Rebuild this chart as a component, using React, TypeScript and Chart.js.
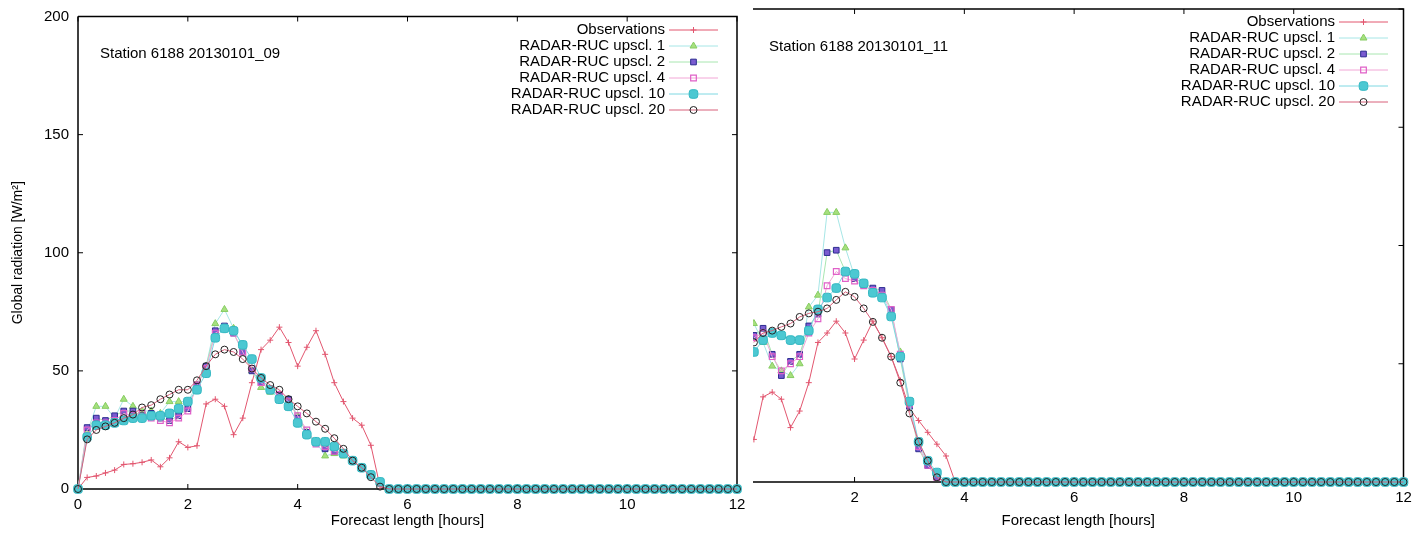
import React, { useEffect, useRef } from 'react';
import { Chart, registerables } from 'chart.js';
import { drawPoint } from 'chart.js/helpers';

Chart.register(...registerables);

const FONT = '"Liberation Sans", Arial, Helvetica, sans-serif';

// ---------------- DATA ----------------
// forecast length in minutes (10-minute steps, 0 .. 12 h)
const forecastMinutes = [
  0, 10, 20, 30, 40, 50, 60, 70, 80, 90,
  100, 110, 120, 130, 140, 150, 160, 170, 180, 190,
  200, 210, 220, 230, 240, 250, 260, 270, 280, 290,
  300, 310, 320, 330, 340, 350, 360, 370, 380, 390,
  400, 410, 420, 430, 440, 450, 460, 470, 480, 490,
  500, 510, 520, 530, 540, 550, 560, 570, 580, 590,
  600, 610, 620, 630, 640, 650, 660, 670, 680, 690,
  700, 710, 720,
];

const seriesLabels = [
  'Observations',
  'RADAR-RUC upscl. 1',
  'RADAR-RUC upscl. 2',
  'RADAR-RUC upscl. 4',
  'RADAR-RUC upscl. 10',
  'RADAR-RUC upscl. 20',
];

const xTicksLeft = [0, 2, 4, 6, 8, 10, 12];
const xTicksRight = [2, 4, 6, 8, 10, 12];
const yTicks = [0, 50, 100, 150, 200];

const stationLeft = 'Station 6188 20130101_09';
const stationRight = 'Station 6188 20130101_11';

// zero tails (night hours)
const leftZeroTail = [
  0, 0, 0, 0, 0, 0, 0, 0, 0, 0,
  0, 0, 0, 0, 0, 0, 0, 0, 0, 0,
  0, 0, 0, 0, 0, 0, 0, 0, 0, 0,
  0, 0, 0, 0, 0, 0, 0, 0, 0,
];
const rightZeroTail = [
  0, 0, 0, 0, 0, 0, 0, 0, 0, 0,
  0, 0, 0, 0, 0, 0, 0, 0, 0, 0,
  0, 0, 0, 0, 0, 0, 0, 0, 0, 0,
  0, 0, 0, 0, 0, 0, 0, 0, 0, 0,
  0, 0, 0, 0, 0, 0, 0, 0, 0, 0,
];

// Left panel (run 09), 0 .. 5.5 h
const leftObs = [0, 4.9, 5.5, 6.8, 8, 10.4, 10.7, 11.3, 12.3, 9.4, 13.2, 20, 17.6, 18.3, 36, 38, 35, 23, 30, 45, 59, 63, 68.5, 62, 52, 60, 67, 57, 45, 37, 30, 27, 18.5, 1];
const leftUp1 = [0, 24, 35, 35, 30, 38, 35, 33, 33, 32, 37, 37, 37, 44, 52, 70, 76, 68, 60, 50, 43, 41, 40, 38, 31, 24, 20, 14, 15, 14, 12, 9, 6, 3];
const leftUp2 = [0, 26, 30, 29, 31, 33, 33, 31, 32, 30, 29, 31, 34, 44, 52, 67, 69, 66, 58, 50, 45, 42, 40, 38, 30, 24, 20, 17, 16, 15, 12, 9, 6, 3];
const leftUp4 = [0, 25, 28, 28, 29, 32, 31, 32, 30, 29, 28, 30, 33, 44, 51, 66, 68, 66, 58, 51, 45, 42, 40, 37, 31, 25, 19, 18, 16, 15, 12, 9, 6, 3];
const leftUp10 = [0, 22, 27, 27, 28, 29, 30, 30, 31, 31, 32, 34, 37, 42, 49, 64, 68, 67, 61, 55, 47, 42, 38, 35, 28, 23, 20, 20, 18, 15, 12, 9, 6, 3];
const leftUp20 = [0, 21, 25, 26.5, 28, 30, 31.5, 34.5, 35.5, 38, 40, 42, 42, 46, 52, 57, 59, 58, 55, 51, 47, 44, 42, 38, 35, 32, 28.5, 25.5, 21.5, 17, 12, 9, 5, 1];

// Right panel (run 11), 0 .. 3.67 h (t = 0 lies outside the cropped frame)
const rightObs = [null, 18, 36, 38, 35, 23, 30, 42, 59, 63, 68, 63, 52, 60, 68, 61, 53, 43, 31, 26, 21, 16, 11];
const rightUp1 = [null, 67, 59, 49, 47, 45, 50, 74, 79, 114, 114, 99, 87, 83, 81, 79, 71, 55, 34, 16, 8, 2, 0];
const rightUp2 = [null, 62, 65, 54, 45, 51, 54, 66, 71, 97, 98, 89, 86, 84, 82, 81, 73, 52, 32, 14, 7, 2, 0];
const rightUp4 = [null, 61, 63, 53, 47, 50, 53, 63, 69, 83, 89, 86, 85, 83, 81, 79, 73, 54, 33, 15, 7, 2, 0];
const rightUp10 = [null, 55, 60, 63, 62, 60, 60, 64, 73, 78, 82, 89, 88, 84, 80, 78, 70, 53, 34, 17, 9, 4, 0];
const rightUp20 = [null, 59, 63, 64, 65.6, 67, 69.8, 71.3, 72, 73.4, 77, 80.4, 78.3, 73.4, 67.7, 61, 53, 42, 29, 17, 9, 2, 0];

const leftSeries = [leftObs, leftUp1, leftUp2, leftUp4, leftUp10, leftUp20].map((s) => [...s, ...leftZeroTail]);
const rightSeries = [rightObs, rightUp1, rightUp2, rightUp4, rightUp10, rightUp20].map((s) => [...s, ...rightZeroTail]);

// ---------------- STYLES ----------------
const styles = [
  { line: '#e2566f', pointStyle: 'cross', border: '#e2566f', fill: 'rgba(0,0,0,0)', radius: 3, bw: 1 },
  { line: '#a6e6e6', pointStyle: 'triangle', border: '#86cc62', fill: '#a6e07e', radius: 4, bw: 1 },
  { line: '#a8e6b0', pointStyle: 'rect', border: '#2c2c90', fill: '#7a5cd0', radius: 4, bw: 1 },
  { line: '#f2a6d6', pointStyle: 'rect', border: '#e060c8', fill: 'rgba(0,0,0,0)', radius: 4, bw: 1.2 },
  { line: '#7ed8e2', pointStyle: 'rectRounded', border: '#34b8c2', fill: '#4cc8d2', radius: 5, bw: 1 },
  { line: '#d8607a', pointStyle: 'circle', border: '#222222', fill: 'rgba(0,0,0,0)', radius: 3.5, bw: 1 },
];

const framePlugin = {
  id: 'gnuFrame',
  beforeDatasetsDraw(chart: any, _args: any, opts: any) {
    const { ctx, chartArea: a, scales } = chart;
    const x = scales.x;
    const y = scales.y;
    const tl = 5;
    ctx.save();
    ctx.strokeStyle = '#000';
    ctx.lineWidth = 1.5;
    ctx.beginPath();
    ctx.moveTo(a.left, a.top);
    ctx.lineTo(a.right, a.top);
    ctx.lineTo(a.right, a.bottom);
    ctx.lineTo(a.left, a.bottom);
    if (opts.leftBorder) ctx.lineTo(a.left, a.top);
    ctx.stroke();
    ctx.lineWidth = 1;
    ctx.beginPath();
    opts.xTicks.forEach((v: number) => {
      const px = x.getPixelForValue(v);
      if (px < a.left - 0.5 || px > a.right + 0.5) return;
      ctx.moveTo(px, a.bottom);
      ctx.lineTo(px, a.bottom - tl);
      ctx.moveTo(px, a.top);
      ctx.lineTo(px, a.top + tl);
    });
    opts.yTicks.forEach((v: number) => {
      const py = y.getPixelForValue(v);
      if (opts.leftBorder) {
        ctx.moveTo(a.left, py);
        ctx.lineTo(a.left + tl, py);
      }
      ctx.moveTo(a.right, py);
      ctx.lineTo(a.right - tl, py);
    });
    ctx.stroke();
    ctx.restore();
  },
};

const legendPlugin = {
  id: 'gnuLegend',
  afterDatasetsDraw(chart: any, _args: any, opts: any) {
    const { ctx, chartArea: a } = chart;
    ctx.save();
    ctx.font = `15px ${FONT}`;
    ctx.textBaseline = 'middle';
    ctx.textAlign = 'left';
    ctx.fillStyle = '#000';
    ctx.fillText(opts.station, a.left + opts.stationDx, a.top + opts.stationDy);
    chart.data.datasets.forEach((ds: any, i: number) => {
      const yy = a.top + opts.top + i * opts.rowHeight;
      const tx = a.right - opts.right;
      ctx.font = `15px ${FONT}`;
      ctx.textAlign = 'right';
      ctx.fillStyle = '#000';
      ctx.fillText(ds.label, tx, yy);
      const x1 = tx + 4;
      const x2 = tx + 53;
      ctx.strokeStyle = ds.borderColor;
      ctx.lineWidth = 1;
      ctx.beginPath();
      ctx.moveTo(x1, yy);
      ctx.lineTo(x2, yy);
      ctx.stroke();
      ctx.fillStyle = ds.pointBackgroundColor;
      ctx.strokeStyle = ds.pointBorderColor;
      ctx.lineWidth = ds.pointBorderWidth;
      drawPoint(ctx, { pointStyle: ds.pointStyle, radius: ds.pointRadius, rotation: 0, borderWidth: ds.pointBorderWidth } as any, (x1 + x2) / 2, yy);
    });
    ctx.restore();
  },
};

type PanelCfg = {
  series: (number | null)[][];
  xMin: number;
  xTicks: number[];
  showY: boolean;
  padding: { left: number; right: number; top: number; bottom: number };
  xAxisHeight: number;
  legendRight: number;
  legendTop: number;
  station: string;
  stationDx: number;
  stationDy: number;
  leftBorder: boolean;
  clip: any;
};

function buildChart(canvas: HTMLCanvasElement, cfg: PanelCfg) {
  const n = cfg.series.length;
  const datasets = cfg.series.map((vals, i) => {
    const st = styles[i];
    return {
      label: seriesLabels[i],
      data: forecastMinutes.map((m, k) => ({ x: m / 60, y: vals[k] })),
      borderColor: st.line,
      borderWidth: 1,
      pointStyle: st.pointStyle,
      pointRadius: st.radius,
      pointBorderColor: st.border,
      pointBackgroundColor: st.fill,
      pointBorderWidth: st.bw,
      tension: 0,
      spanGaps: false,
      order: n - 1 - i,
      clip: cfg.clip,
    };
  });
  const tickFont = { family: FONT, size: 15 };
  return new Chart(canvas, {
    type: 'line',
    data: { datasets } as any,
    options: {
      animation: false,
      responsive: false,
      maintainAspectRatio: false,
      events: [],
      layout: { padding: cfg.padding },
      plugins: {
        legend: { display: false },
        tooltip: { enabled: false },
        gnuFrame: { xTicks: cfg.xTicks, yTicks, leftBorder: cfg.leftBorder },
        gnuLegend: {
          right: cfg.legendRight,
          top: cfg.legendTop,
          rowHeight: 16,
          station: cfg.station,
          stationDx: cfg.stationDx,
          stationDy: cfg.stationDy,
        },
      } as any,
      scales: {
        x: {
          type: 'linear',
          min: cfg.xMin,
          max: 12,
          afterBuildTicks: (s: any) => {
            s.ticks = cfg.xTicks.map((v) => ({ value: v }));
          },
          afterFit: (s: any) => {
            s.height = cfg.xAxisHeight;
            s.paddingLeft = 0;
            s.paddingRight = 0;
          },
          grid: { display: false, drawTicks: false },
          border: { display: false },
          ticks: { color: '#000', font: tickFont, padding: 7, maxRotation: 0, autoSkip: false },
          title: {
            display: true,
            text: 'Forecast length [hours]',
            color: '#000',
            font: tickFont,
            padding: { top: 0, bottom: 5 },
          },
        },
        y: {
          type: 'linear',
          display: cfg.showY,
          min: 0,
          max: 200,
          afterBuildTicks: (s: any) => {
            s.ticks = yTicks.map((v) => ({ value: v }));
          },
          afterFit: (s: any) => {
            s.width = cfg.showY ? 78 : 0;
            s.paddingTop = 0;
            s.paddingBottom = 0;
          },
          grid: { display: false, drawTicks: false },
          border: { display: false },
          ticks: { color: '#000', font: tickFont, padding: 9 },
          title: {
            display: true,
            text: 'Global radiation [W/m²]',
            color: '#000',
            font: { family: FONT, size: 14 },
            padding: { top: 10, bottom: 0 },
          },
        },
      },
    } as any,
    plugins: [framePlugin, legendPlugin],
  });
}

export default function App() {
  const leftRef = useRef<HTMLCanvasElement | null>(null);
  const rightRef = useRef<HTMLCanvasElement | null>(null);

  useEffect(() => {
    const c1 = buildChart(leftRef.current!, {
      series: leftSeries,
      xMin: 0,
      xTicks: xTicksLeft,
      showY: true,
      padding: { left: 0, right: 8, top: 16.5, bottom: 0 },
      xAxisHeight: 46,
      legendRight: 72,
      legendTop: 13.5,
      station: stationLeft,
      stationDx: 22,
      stationDy: 37,
      leftBorder: true,
      clip: 8,
    });
    const c2 = buildChart(rightRef.current!, {
      series: rightSeries,
      xMin: 0.15,
      xTicks: xTicksRight,
      showY: false,
      padding: { left: 8, right: 21.5, top: 9, bottom: 0 },
      xAxisHeight: 53,
      legendRight: 68.5,
      legendTop: 13,
      station: stationRight,
      stationDx: 16,
      stationDy: 38,
      leftBorder: false,
      clip: { left: 0, right: 8, top: 8, bottom: 8 },
    });
    return () => {
      c1.destroy();
      c2.destroy();
    };
  }, []);

  return (
    <div style={{ position: 'fixed', left: 0, top: 0, width: 1425, height: 535, background: '#fff' }}>
      <canvas ref={leftRef} width={745} height={535} style={{ position: 'absolute', left: 0, top: 0, width: 745, height: 535 }} />
      <canvas ref={rightRef} width={680} height={535} style={{ position: 'absolute', left: 745, top: 0, width: 680, height: 535 }} />
    </div>
  );
}
